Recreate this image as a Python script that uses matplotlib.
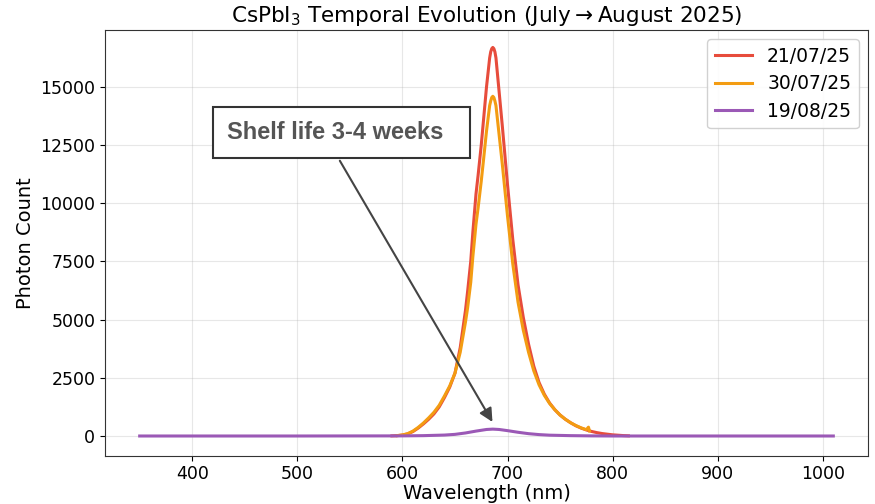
import matplotlib
matplotlib.use("Agg")
import matplotlib.pyplot as plt

# ---- data ----
red_nm = [590, 595, 600, 605, 610, 615, 620, 625, 630, 635, 640, 645, 650, 655, 660,
          662, 665, 667, 670, 672, 675, 677, 680, 683, 684, 685, 686, 687, 688, 689,
          692, 695, 700, 705, 710, 715, 720, 725, 730, 735, 740, 745, 750, 755, 760,
          765, 770, 775, 780, 785, 790, 800, 810, 815]
red_val = [5, 15, 40, 90, 190, 340, 520, 720, 950, 1250, 1650, 2100, 2700, 3800, 5400,
           6200, 7500, 8750, 10400, 11200, 12500, 13500, 15000, 16250, 16510, 16650, 16700, 16650, 16510, 16250,
           14800, 13350, 10800, 8450, 6500, 5100, 3950, 3000, 2300, 1800, 1420, 1130, 900, 720, 570,
           440, 340, 260, 195, 145, 105, 50, 18, 8]

orange_nm = [595, 600, 605, 610, 615, 620, 625, 630, 635, 640, 645, 650, 655, 660,
             662, 665, 667, 670, 672, 675, 677, 680, 683, 684, 685, 686, 687, 688, 689,
             692, 695, 700, 705, 710, 715, 720, 725, 730, 735, 740, 745, 750, 755, 760,
             765, 770, 775, 777, 778]
orange_val = [15, 45, 100, 210, 370, 560, 780, 1020, 1320, 1720, 2150, 2700, 3600, 4900,
              5500, 6600, 7700, 9100, 9800, 10950, 11800, 13100, 14200, 14400, 14550, 14600, 14550, 14400, 14200,
              12950, 11700, 9450, 7400, 5750, 4550, 3600, 2800, 2200, 1750, 1400, 1130, 900, 720, 570,
              450, 350, 270, 380, 220]

purple_nm = [350, 500, 600, 620, 640, 650, 660, 670, 680, 686, 692, 700, 710, 720, 730,
             740, 760, 780, 800, 900, 1010]
purple_val = [0, 0, 5, 15, 40, 70, 130, 210, 280, 295, 280, 230, 160, 100, 60,
              35, 15, 5, 0, 0, 0]

labels = ["21/07/25", "30/07/25", "19/08/25"]
colors = ["#e74c3c", "#f39c12", "#9b59b6"]

fig = plt.figure(figsize=(8.75, 5.04), dpi=100)
ax = fig.add_axes([105/875, 1-456/504, (868-105)/875, (456-30)/504])

ax.plot(red_nm, red_val, color=colors[0], lw=2.2, label=labels[0])
ax.plot(orange_nm, orange_val, color=colors[1], lw=2.2, label=labels[1])
ax.plot(purple_nm, purple_val, color=colors[2], lw=2.2, label=labels[2])

ax.set_ylim(-860, 17450)
ax.set_title("CsPbI$_3$ Temporal Evolution (July\u2009\u2192\u2009August 2025)", fontsize=15.5)
ax.set_xlabel("Wavelength (nm)", fontsize=14, labelpad=1)
ax.set_ylabel("Photon Count", fontsize=14)
ax.tick_params(labelsize=12.5)
ax.tick_params(axis="x", pad=3)
ax.grid(True, alpha=0.3)
for s in ax.spines.values():
    s.set_color("#333333")

ax.legend(loc="upper right", fontsize=13.5, framealpha=0.9, labelspacing=0.45)

ax.annotate("Shelf life 3-4 weeks  ", xy=(687, 500), xytext=(542, 13050),
            ha="center", va="center", fontsize=17, fontweight="bold",
            family="Liberation Sans", color="#555555",
            bbox=dict(boxstyle="square,pad=0.58", fc="white", ec="#333333", lw=1.5),
            arrowprops=dict(arrowstyle="-|>", color="#444444", lw=1.5,
                            mutation_scale=20, relpos=(0.45, 0.0)))

fig.savefig("out.png", dpi=100)
